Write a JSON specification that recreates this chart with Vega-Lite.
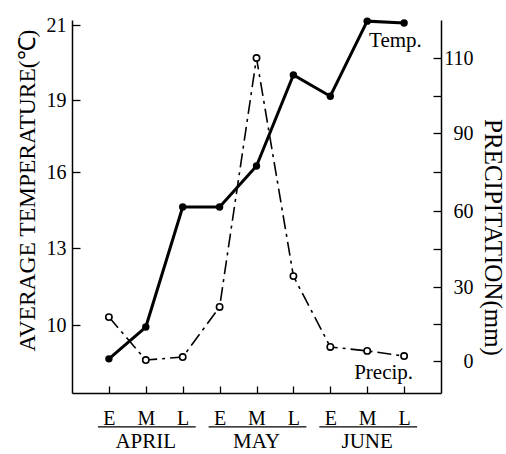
{
  "$schema": "https://vega.github.io/schema/vega-lite/v6.json",
  "width": 369,
  "height": 373,
  "autosize": "none",
  "padding": {"left": 72, "top": 20, "right": 65, "bottom": 61},
  "background": "white",
  "config": {
    "view": {"stroke": null},
    "font": "Liberation Serif",
    "axis": {
      "domainColor": "black", "tickColor": "black", "labelColor": "black", "titleColor": "black",
      "domainWidth": 1.5, "tickWidth": 1.3, "grid": false,
      "labelFont": "Liberation Serif", "titleFont": "Liberation Serif", "titleFontWeight": "normal"
    }
  },
  "datasets": {
    "climate": [
      {"period": "April-E", "temperature": 8.67, "precipitation": 17.8},
      {"period": "April-M", "temperature": 9.92, "precipitation": 0.4},
      {"period": "April-L", "temperature": 14.62, "precipitation": 1.6},
      {"period": "May-E", "temperature": 14.62, "precipitation": 21.9},
      {"period": "May-M", "temperature": 16.25, "precipitation": 110},
      {"period": "May-L", "temperature": 19.67, "precipitation": 34.3},
      {"period": "June-E", "temperature": 19.1, "precipitation": 5.7},
      {"period": "June-M", "temperature": 21.1, "precipitation": 4.1},
      {"period": "June-L", "temperature": 21.05, "precipitation": 2.0}
    ],
    "months": [
      {"month": "APRIL", "start": "April-E", "mid": "April-M", "end": "April-L"},
      {"month": "MAY", "start": "May-E", "mid": "May-M", "end": "May-L"},
      {"month": "JUNE", "start": "June-E", "mid": "June-M", "end": "June-L"}
    ]
  },
  "layer": [
    {
      "layer": [
        {
          "data": {"name": "climate"},
          "mark": {"type": "line", "color": "black", "strokeWidth": 3},
          "encoding": {
            "x": {
              "field": "period", "type": "ordinal",
              "scale": {"type": "point", "padding": 1, "domain": ["April-E","April-M","April-L","May-E","May-M","May-L","June-E","June-M","June-L"]},
              "axis": {"title": null, "labelExpr": "split(datum.value, '-')[1]", "tickSize": -7, "labelPadding": 22, "labelFontSize": 20, "labelAngle": 0}
            },
            "y": {
              "field": "temperature", "type": "quantitative",
              "scale": {"domain": [7.33, 10, 13, 16, 19, 21, 21.13], "range": [373, 305, 228, 152, 80, 5, 0], "zero": false, "nice": false},
              "axis": {"orient": "left", "values": [10, 13, 16, 19, 21], "tickSize": -8, "labelPadding": 14, "labelFontSize": 20, "title": "AVERAGE TEMPERATURE(℃)", "titleFontSize": 23.5, "titlePadding": 7, "titleY": 170}
            }
          }
        },
        {
          "data": {"name": "climate"},
          "mark": {"type": "point", "filled": true, "color": "black", "size": 55, "opacity": 1},
          "encoding": {
            "x": {"field": "period", "type": "ordinal"},
            "y": {"field": "temperature", "type": "quantitative"}
          }
        },
        {
          "data": {"name": "climate"},
          "transform": [{"filter": "datum.period == 'June-L'"}],
          "mark": {"type": "text", "align": "left", "baseline": "middle", "dx": -35, "dy": 18, "fontSize": 21, "font": "Liberation Serif", "color": "black"},
          "encoding": {
            "x": {"field": "period", "type": "ordinal"},
            "y": {"field": "temperature", "type": "quantitative"},
            "text": {"value": "Temp."}
          }
        },
        {
          "data": {"name": "months"},
          "mark": {"type": "rule", "color": "black", "strokeWidth": 1.3, "xOffset": -11, "x2Offset": 13},
          "encoding": {
            "x": {"field": "start", "type": "ordinal"},
            "x2": {"field": "end"},
            "y": {"datum": 6.0, "type": "quantitative"}
          }
        },
        {
          "data": {"name": "months"},
          "mark": {"type": "text", "align": "center", "baseline": "middle", "fontSize": 21, "font": "Liberation Serif", "color": "black"},
          "encoding": {
            "x": {"field": "mid", "type": "ordinal"},
            "y": {"datum": 5.41, "type": "quantitative"},
            "text": {"field": "month"}
          }
        }
      ]
    },
    {
      "layer": [
        {
          "data": {"name": "climate"},
          "mark": {"type": "line", "color": "black", "strokeWidth": 1.6, "strokeDash": [14, 5, 3, 5]},
          "encoding": {
            "x": {"field": "period", "type": "ordinal"},
            "y": {
              "field": "precipitation", "type": "quantitative",
              "scale": {"domain": [-12.8, 0, 30, 60, 90, 110, 120.1], "range": [373, 341, 267, 191, 113, 38, 0], "zero": false, "nice": false},
              "axis": {"orient": "right", "values": [0, 15, 30, 45, 60, 75, 90, 100, 110], "labelExpr": "(datum.value == 15 || datum.value == 45 || datum.value == 75 || datum.value == 100) ? '' : datum.label", "tickSize": -8, "labelPadding": 40, "labelAlign": "right", "labelFontSize": 20, "title": "PRECIPITATION(mm)", "titleFontSize": 25, "titlePadding": 6, "titleY": 217}
            }
          }
        },
        {
          "data": {"name": "climate"},
          "mark": {"type": "point", "filled": true, "fill": "white", "stroke": "black", "strokeWidth": 1.6, "size": 40, "opacity": 1},
          "encoding": {
            "x": {"field": "period", "type": "ordinal"},
            "y": {"field": "precipitation", "type": "quantitative"}
          }
        },
        {
          "data": {"name": "climate"},
          "transform": [{"filter": "datum.period == 'June-L'"}],
          "mark": {"type": "text", "align": "right", "baseline": "middle", "dx": 9, "dy": 17, "fontSize": 21, "font": "Liberation Serif", "color": "black"},
          "encoding": {
            "x": {"field": "period", "type": "ordinal"},
            "y": {"field": "precipitation", "type": "quantitative"},
            "text": {"value": "Precip."}
          }
        }
      ]
    }
  ],
  "resolve": {"scale": {"y": "independent"}, "axis": {"y": "independent"}}
}
